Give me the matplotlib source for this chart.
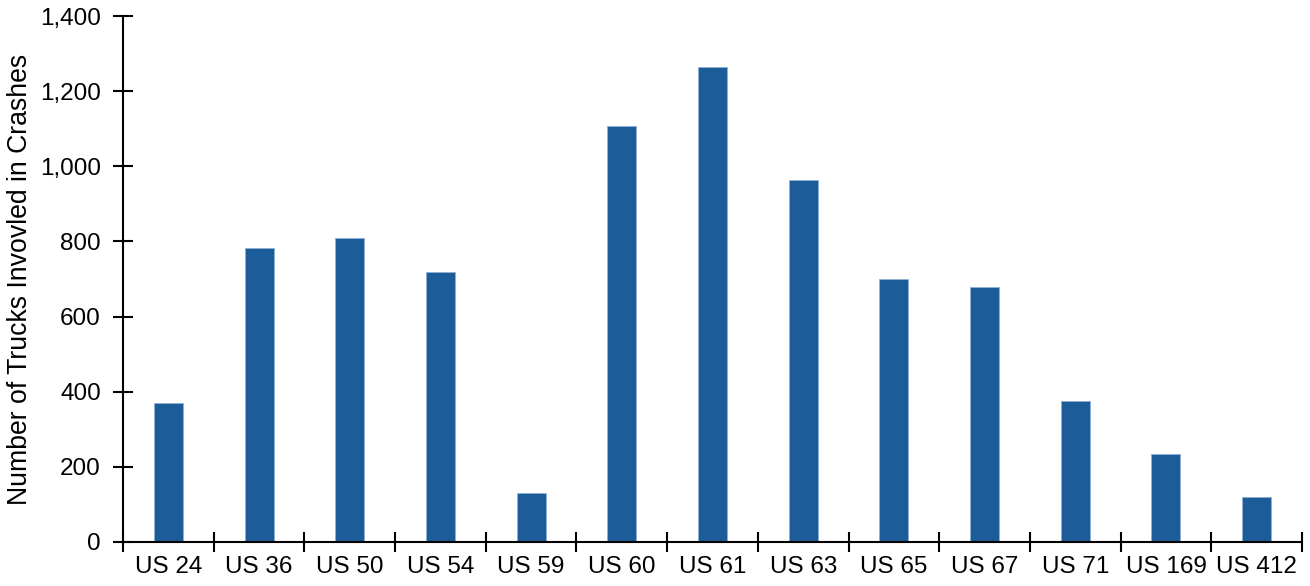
import matplotlib.pyplot as plt
from matplotlib.ticker import FuncFormatter

plt.rcParams['font.family'] = ['Liberation Sans', 'DejaVu Sans']

# Data
routes = ['US 24', 'US 36', 'US 50', 'US 54', 'US 59', 'US 60', 'US 61',
          'US 63', 'US 65', 'US 67', 'US 71', 'US 169', 'US 412']
trucks = [370, 783, 809, 719, 131, 1108, 1264, 963, 700, 678, 375, 234, 120]

fig = plt.figure(figsize=(13.1, 5.86), dpi=100)
ax = fig.add_axes([123 / 1310, 1 - 542 / 586, (1302 - 123) / 1310, (542 - 16) / 586])

x = list(range(len(routes)))
ax.bar(x, trucks, width=0.32, color='#1c5c99', edgecolor='#8fb0d4', linewidth=0.6)

ax.set_xlim(-0.5, len(routes) - 0.5)
ax.set_ylim(0, 1400)
ax.set_yticks(range(0, 1401, 200))
ax.yaxis.set_major_formatter(FuncFormatter(lambda v, p: f'{int(v):,}'))

# category labels centred, tick marks at the boundaries
ax.set_xticks([i - 0.5 for i in range(len(routes) + 1)])
ax.set_xticklabels([])
ax.set_xticks(x, minor=True)
ax.set_xticklabels(routes, minor=True)
ax.tick_params(axis='x', which='minor', length=0, labelsize=17.5, pad=10)
ax.tick_params(axis='x', which='major', direction='inout', length=14, width=1.5)
ax.tick_params(axis='y', direction='inout', length=14, width=1.5, labelsize=17.5, pad=9)

for side in ['top', 'right']:
    ax.spines[side].set_visible(False)
for side in ['left', 'bottom']:
    ax.spines[side].set_linewidth(1.5)

ax.set_ylabel('Number of Trucks Invovled in Crashes', fontsize=19.2)
ax.yaxis.set_label_coords(-90 / 1179, 0.5)

fig.savefig('out.png', dpi=100)
